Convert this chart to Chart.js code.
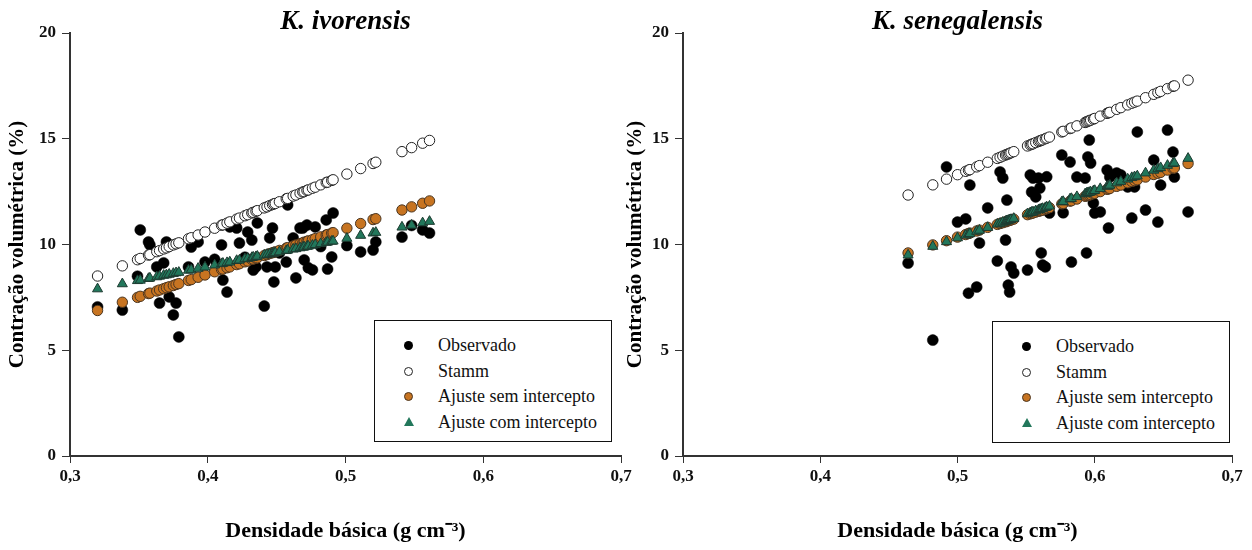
<!DOCTYPE html>
<html lang="pt">
<head>
<meta charset="utf-8">
<title>Contração volumétrica x densidade básica</title>
<script src="https://cdn.jsdelivr.net/npm/chart.js@4.4.1/dist/chart.umd.min.js"></script>
<style>
  html, body { margin: 0; padding: 0; background: #fff; }
  #page { position: relative; width: 1252px; height: 550px; overflow: hidden; }
  canvas { position: absolute; top: 0; }
  #chartIvo { left: 0; }
  #chartSen { left: 620px; }
  .legend {
    position: absolute; width: 238px; height: 122px; box-sizing: border-box;
    border: 1.5px solid #111; background: #fff;
    font-family: 'Liberation Serif', 'Times New Roman', serif; font-size: 18px; color: #111;
  }
  .legend .row { position: absolute; left: 0; width: 100%; height: 24px; line-height: 24px; white-space: nowrap; }
  .legend .row span.txt { position: absolute; left: 63px; top: 0; }
  .legend .mk { position: absolute; box-sizing: border-box; }
  .mk.obs { left: 29px; top: 8px; width: 9px; height: 9px; border-radius: 50%; background: #000; }
  .mk.stamm { left: 29px; top: 8px; width: 9px; height: 9px; border-radius: 50%; background: #fff; border: 1px solid #222; }
  .mk.sem { left: 29px; top: 8px; width: 9px; height: 9px; border-radius: 50%; background: #c77421; border: 1px solid #4a3520; }
  .mk.com { left: 29px; top: 7px; width: 0; height: 0; border-left: 5px solid transparent; border-right: 5px solid transparent; border-bottom: 9px solid #22775b; }
</style>
</head>
<body>
<div id="page">
  <canvas id="chartIvo" width="640" height="550"></canvas>
  <canvas id="chartSen" width="632" height="550"></canvas>
  <div class="legend" id="legendIvo" style="left:374px; top:320px;"></div>
  <div class="legend" id="legendSen" style="left:992px; top:321px;"></div>
</div>
<script>
// eixos
const xTickValues = [0.3, 0.4, 0.5, 0.6, 0.7];
const xTickLabels = ['0,3', '0,4', '0,5', '0,6', '0,7'];
const yTickValues = [0, 5, 10, 15, 20];
const yTickLabels = ['0', '5', '10', '15', '20'];
const seriesNames = ['Observado', 'Stamm', 'Ajuste sem intercepto', 'Ajuste com intercepto'];

// K. ivorensis
const ivoDensity = [0.320, 0.338, 0.349, 0.351, 0.357, 0.358, 0.363, 0.365, 0.368, 0.370,
  0.372, 0.375, 0.377, 0.379, 0.386, 0.388, 0.393, 0.398, 0.405, 0.410,
  0.411, 0.414, 0.416, 0.421, 0.423, 0.427, 0.429, 0.432, 0.433, 0.435,
  0.436, 0.441, 0.443, 0.445, 0.447, 0.448, 0.449, 0.452, 0.457, 0.458,
  0.462, 0.464, 0.467, 0.469, 0.470, 0.472, 0.473, 0.476, 0.478, 0.482,
  0.486, 0.487, 0.490, 0.491, 0.501, 0.511, 0.520, 0.522, 0.541, 0.548,
  0.556, 0.561];
const ivoObserved = [7.05, 6.90, 8.50, 10.69, 10.12, 9.98, 8.94, 7.23, 9.13, 10.12,
  7.52, 6.67, 7.23, 5.63, 8.94, 9.88, 10.12, 9.17, 9.30, 9.98,
  8.32, 7.75, 10.83, 10.78, 10.07, 9.40, 10.59, 10.21, 8.79, 8.94,
  11.02, 7.09, 8.94, 10.31, 10.78, 8.23, 8.94, 9.60, 9.17, 11.87,
  10.31, 8.42, 10.78, 10.78, 9.27, 10.92, 8.90, 8.80, 10.83, 9.90,
  11.16, 8.84, 9.41, 11.49, 9.95, 9.65, 9.74, 10.12, 10.35, 10.90,
  10.69, 10.54];
const ivoStamm = [8.51, 8.99, 9.28, 9.34, 9.50, 9.52, 9.66, 9.71, 9.79, 9.84,
  9.90, 9.98, 10.03, 10.08, 10.27, 10.32, 10.45, 10.59, 10.77, 10.91,
  10.93, 11.01, 11.07, 11.20, 11.25, 11.36, 11.41, 11.49, 11.52, 11.57,
  11.60, 11.73, 11.78, 11.84, 11.89, 11.92, 11.94, 12.02, 12.16, 12.18,
  12.29, 12.34, 12.42, 12.48, 12.50, 12.56, 12.58, 12.66, 12.71, 12.82,
  12.93, 12.95, 13.03, 13.06, 13.33, 13.59, 13.83, 13.89, 14.39, 14.58,
  14.79, 14.92];
const ivoSemIntercepto = [6.88, 7.27, 7.50, 7.55, 7.68, 7.70, 7.80, 7.85, 7.91, 7.96,
  8.00, 8.06, 8.11, 8.15, 8.30, 8.34, 8.45, 8.56, 8.71, 8.82,
  8.84, 8.90, 8.94, 9.05, 9.09, 9.18, 9.22, 9.29, 9.31, 9.35,
  9.37, 9.48, 9.52, 9.57, 9.61, 9.63, 9.65, 9.72, 9.83, 9.85,
  9.93, 9.98, 10.04, 10.08, 10.11, 10.15, 10.17, 10.23, 10.28, 10.36,
  10.45, 10.47, 10.54, 10.56, 10.77, 10.99, 11.18, 11.22, 11.63, 11.78,
  11.95, 12.06];
const ivoComIntercepto = [7.90, 8.14, 8.29, 8.31, 8.39, 8.41, 8.47, 8.50, 8.54, 8.56,
  8.59, 8.63, 8.66, 8.68, 8.78, 8.80, 8.87, 8.93, 9.03, 9.09,
  9.11, 9.14, 9.17, 9.24, 9.26, 9.32, 9.34, 9.38, 9.40, 9.42,
  9.44, 9.50, 9.53, 9.55, 9.58, 9.59, 9.61, 9.65, 9.71, 9.73,
  9.78, 9.80, 9.84, 9.87, 9.88, 9.91, 9.92, 9.96, 9.99, 10.04,
  10.10, 10.11, 10.15, 10.16, 10.29, 10.43, 10.54, 10.57, 10.82, 10.91,
  11.02, 11.09];

// K. senegalensis
const senDensity = [0.464, 0.482, 0.492, 0.500, 0.506, 0.508, 0.509, 0.514, 0.516, 0.522,
  0.529, 0.531, 0.533, 0.535, 0.536, 0.537, 0.538, 0.539, 0.541, 0.551,
  0.553, 0.554, 0.555, 0.557, 0.559, 0.560, 0.561, 0.562, 0.564, 0.565,
  0.567, 0.576, 0.577, 0.582, 0.583, 0.587, 0.593, 0.594, 0.595, 0.596,
  0.597, 0.599, 0.600, 0.604, 0.609, 0.610, 0.611, 0.616, 0.619, 0.624,
  0.627, 0.629, 0.631, 0.637, 0.643, 0.646, 0.648, 0.653, 0.657, 0.658,
  0.668];
const senObserved = [9.12, 5.48, 13.67, 11.06, 11.21, 7.70, 12.81, 7.99, 10.07, 11.73,
  9.22, 13.43, 13.14, 10.21, 12.10, 8.08, 7.75, 8.94, 8.65, 8.79,
  13.29, 12.48, 13.14, 12.25, 13.14, 12.67, 9.60, 9.03, 8.94, 13.20,
  11.49, 14.23, 11.50, 13.90, 9.17, 13.19, 13.14, 9.60, 14.14, 14.94,
  13.85, 11.96, 11.49, 11.54, 13.52, 10.78, 13.19, 13.38, 13.29, 12.72,
  11.25, 12.72, 15.32, 11.63, 13.99, 11.06, 12.81, 15.41, 14.37, 13.19,
  11.54];
const senStamm = [12.34, 12.82, 13.09, 13.30, 13.46, 13.51, 13.54, 13.67, 13.73, 13.89,
  14.07, 14.12, 14.18, 14.23, 14.26, 14.28, 14.31, 14.34, 14.39, 14.66,
  14.71, 14.74, 14.76, 14.82, 14.87, 14.90, 14.92, 14.95, 15.00, 15.03,
  15.08, 15.32, 15.35, 15.48, 15.51, 15.61, 15.77, 15.80, 15.83, 15.85,
  15.88, 15.93, 15.96, 16.07, 16.20, 16.23, 16.25, 16.39, 16.47, 16.60,
  16.68, 16.73, 16.78, 16.94, 17.10, 17.18, 17.24, 17.37, 17.48, 17.50,
  17.77];
const senSemIntercepto = [9.60, 9.98, 10.18, 10.35, 10.47, 10.52, 10.54, 10.64, 10.68, 10.81,
  10.95, 10.99, 11.03, 11.07, 11.10, 11.12, 11.14, 11.16, 11.20, 11.41,
  11.45, 11.47, 11.49, 11.53, 11.57, 11.59, 11.61, 11.63, 11.67, 11.70,
  11.74, 11.92, 11.94, 12.05, 12.07, 12.15, 12.28, 12.30, 12.32, 12.34,
  12.36, 12.40, 12.42, 12.50, 12.61, 12.63, 12.65, 12.75, 12.81, 12.92,
  12.98, 13.02, 13.06, 13.19, 13.31, 13.37, 13.41, 13.52, 13.60, 13.62,
  13.83];
const senComIntercepto = [9.50, 9.91, 10.13, 10.31, 10.44, 10.49, 10.51, 10.62, 10.67, 10.80,
  10.96, 11.00, 11.05, 11.09, 11.12, 11.14, 11.16, 11.18, 11.23, 11.45,
  11.50, 11.52, 11.54, 11.59, 11.63, 11.65, 11.68, 11.70, 11.74, 11.77,
  11.81, 12.01, 12.03, 12.15, 12.17, 12.26, 12.39, 12.42, 12.44, 12.46,
  12.48, 12.53, 12.55, 12.64, 12.75, 12.77, 12.80, 12.91, 12.98, 13.09,
  13.16, 13.20, 13.24, 13.38, 13.51, 13.58, 13.63, 13.74, 13.83, 13.85,
  14.07];

const FONT = "'Liberation Serif', 'Times New Roman', serif";
Chart.defaults.font.family = FONT;
Chart.defaults.color = '#000';

const toPoints = (xs, ys) => xs.map((x, i) => ({ x, y: ys[i] }));

const getDatasets = (density, obs, stamm, sem, com) => [
  {
    label: seriesNames[0],
    data: toPoints(density, obs),
    pointStyle: 'circle',
    pointRadius: 5.5,
    backgroundColor: '#000',
    borderColor: '#000',
    borderWidth: 0.5,
    order: 4,
  },
  {
    label: seriesNames[1],
    data: toPoints(density, stamm),
    pointStyle: 'circle',
    pointRadius: 5.2,
    backgroundColor: '#fff',
    borderColor: '#222',
    borderWidth: 1,
    order: 3,
  },
  {
    label: seriesNames[2],
    data: toPoints(density, sem),
    pointStyle: 'circle',
    pointRadius: 5.2,
    backgroundColor: '#c77421',
    borderColor: '#4a3520',
    borderWidth: 1,
    order: 2,
  },
  {
    label: seriesNames[3],
    data: toPoints(density, com),
    pointStyle: 'triangle',
    pointRadius: 5.8,
    backgroundColor: '#22775b',
    borderColor: '#1d3a30',
    borderWidth: 1,
    order: 1,
  },
];

const makeChart = (canvasId, titleText, datasets, yWidth, yTitlePad, rightPad) => {
  const axisGrid = {
    display: true,
    drawOnChartArea: false,
    drawTicks: true,
    color: '#333',
    lineWidth: 1,
  };
  return new Chart(document.getElementById(canvasId), {
    type: 'scatter',
    data: { datasets },
    options: {
      responsive: false,
      animation: false,
      layout: { padding: { left: 0, right: rightPad, top: 0, bottom: 0 } },
      plugins: {
        legend: { display: false },
        tooltip: { enabled: false },
        title: {
          display: true,
          text: titleText,
          fullSize: false,
          color: '#000',
          font: { family: FONT, size: 27, weight: 'bold', style: 'italic', lineHeight: 0.8 },
          padding: { top: 11.4, bottom: 0 },
        },
      },
      scales: {
        x: {
          type: 'linear',
          min: 0.3,
          max: 0.7,
          afterBuildTicks: (s) => { s.ticks = xTickValues.map((v) => ({ value: v })); },
          afterFit: (s) => { s.height = 94; },
          ticks: {
            padding: 3,
            color: '#111',
            font: { size: 17, weight: 'bold' },
            callback: (v) => xTickLabels[xTickValues.indexOf(v)] ?? String(v).replace('.', ','),
          },
          grid: { ...axisGrid, tickLength: 7 },
          border: { display: true, color: '#333', width: 2 },
          title: {
            display: true,
            text: 'Densidade básica (g cm⁻³)',
            color: '#000',
            font: { size: 22, weight: 'bold' },
            padding: { top: 0, bottom: 5.8 },
          },
        },
        y: {
          type: 'linear',
          min: 0,
          max: 20,
          afterBuildTicks: (s) => { s.ticks = yTickValues.map((v) => ({ value: v })); },
          afterFit: (s) => { s.width = yWidth; },
          ticks: {
            padding: 6,
            color: '#111',
            font: { size: 17, weight: 'bold' },
            callback: (v) => yTickLabels[yTickValues.indexOf(v)] ?? String(v),
          },
          grid: { ...axisGrid, tickLength: 8 },
          border: { display: true, color: '#333', width: 2 },
          title: {
            display: true,
            text: 'Contração volumétrica (%)',
            color: '#000',
            font: { size: 21, weight: 'bold' },
            padding: { top: yTitlePad, bottom: 0 },
          },
        },
      },
    },
  });
};

const buildLegend = (legendId) => {
  const box = document.getElementById(legendId);
  const kinds = ['obs', 'stamm', 'sem', 'com'];
  seriesNames.forEach((name, i) => {
    const row = document.createElement('div');
    row.className = 'row';
    row.style.top = (12 + i * 25.5) + 'px';
    const mk = document.createElement('span');
    mk.className = 'mk ' + kinds[i];
    const txt = document.createElement('span');
    txt.className = 'txt';
    txt.textContent = name;
    row.append(mk, txt);
    box.append(row);
  });
};

makeChart('chartIvo', 'K. ivorensis',
  getDatasets(ivoDensity, ivoObserved, ivoStamm, ivoSemIntercepto, ivoComIntercepto), 70, 5.4, 19);
makeChart('chartSen', 'K. senegalensis',
  getDatasets(senDensity, senObserved, senStamm, senSemIntercepto, senComIntercepto), 63, 3.4, 20);
buildLegend('legendIvo');
buildLegend('legendSen');
</script>
</body>
</html>
